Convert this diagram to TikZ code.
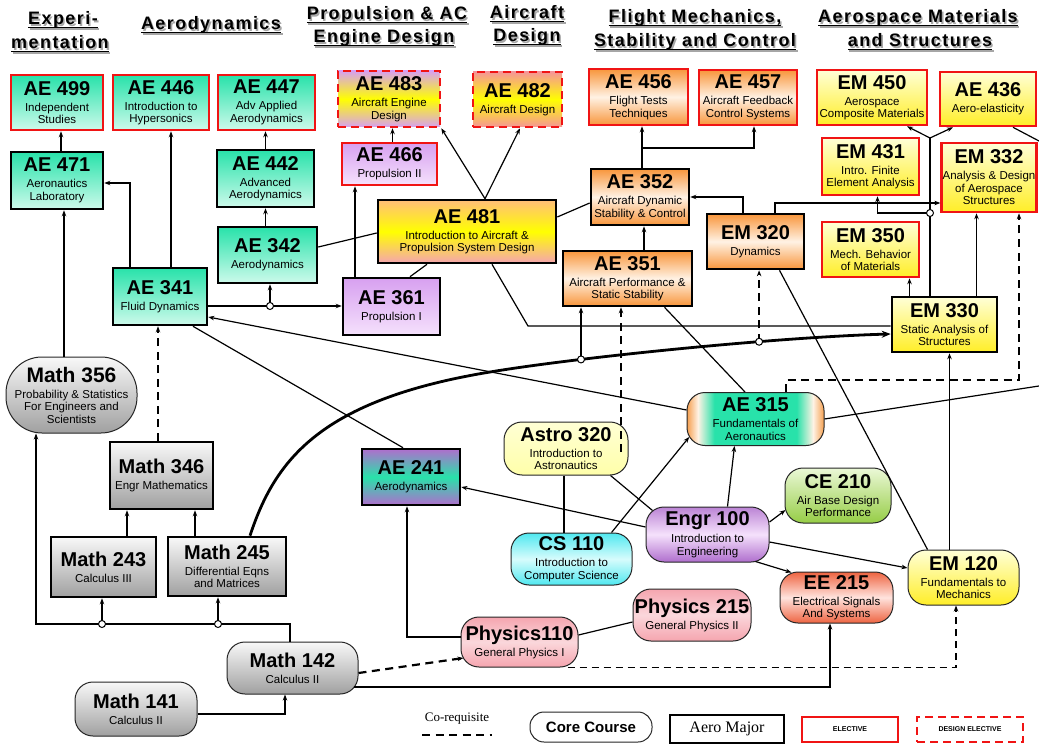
\documentclass[tikz,border=0pt]{standalone}
\usepackage{fontspec}
\setmainfont{Liberation Sans}
\newfontfamily\hdrfont[LetterSpace=8]{Liberation Sans}
\newfontfamily\legserif{Liberation Serif}
\usetikzlibrary{arrows.meta}

\definecolor{aqua}{RGB}{40,226,170}
\definecolor{mint}{RGB}{205,250,235}
\definecolor{lav}{RGB}{215,160,240}
\definecolor{lavl}{RGB}{245,225,252}
\definecolor{org}{RGB}{248,150,60}
\definecolor{orgl}{RGB}{255,242,228}
\definecolor{orgrim}{RGB}{245,160,80}
\definecolor{ylw}{RGB}{255,238,40}
\definecolor{ylwl}{RGB}{255,255,215}
\definecolor{salmon}{RGB}{245,150,150}
\definecolor{peach}{RGB}{255,190,120}
\definecolor{pinkc}{RGB}{245,165,175}
\definecolor{grayd}{RGB}{160,160,160}
\definecolor{grayl}{RGB}{248,248,248}
\definecolor{purp}{RGB}{175,110,205}
\definecolor{cyanc}{RGB}{80,232,240}
\definecolor{cyanl}{RGB}{215,252,252}
\definecolor{greenc}{RGB}{150,205,70}
\definecolor{greenl}{RGB}{235,248,215}
\definecolor{redc}{RGB}{238,100,65}
\definecolor{redl}{RGB}{255,228,222}
\definecolor{astro}{RGB}{255,255,212}
\definecolor{elred}{RGB}{240,20,20}

% green body with orange ends for AE 315
\pgfdeclarehorizontalshading{aerorim}{100bp}{color(0bp)=(orgrim); color(25bp)=(orgrim); color(29bp)=(orgl); color(35bp)=(aqua); color(65bp)=(aqua); color(71bp)=(orgl); color(75bp)=(orgrim); color(100bp)=(orgrim)}

\newcommand\ttlfont{\fontsize{20}{20}\selectfont\bfseries}
\newcommand\subfont{\fontsize{11.5}{12.5}\selectfont}
\newcommand\crs[2]{{\ttlfont #1}\\[3.5pt]#2}
% underlined header line with a grey drop shadow
\newcommand\hul[1]{\setbox0=\hbox{#1}\rlap{\rule[-3.2pt]{\wd0}{1.6pt}}\box0}
\newcommand\hdrtext[1]{\rlap{\kern1.6pt\raisebox{-1.6pt}{\color{black!35}\hul{#1}}}\hul{#1}}

\begin{document}
\begin{tikzpicture}[x=1pt,y=-1pt,
  box/.style={rectangle, align=center, inner sep=1pt, font=\subfont},
  sz/.style 2 args={minimum width=#1pt, minimum height=#2pt},
  major/.style={box, draw=black, line width=2.6pt},
  elective/.style={box, draw=elred, line width=2.6pt},
  delective/.style={box, draw=elred, line width=2.6pt, dash pattern=on 8pt off 5pt},
  core/.style={box, draw=black!85, line width=1pt, rounded corners=18pt},
  fgreen/.style={top color=aqua, bottom color=mint},
  fpurple/.style={top color=lav, bottom color=lavl},
  f483/.style={top color=lav, bottom color=lav, middle color=yellow},
  f482/.style={top color=salmon, bottom color=salmon, middle color=yellow},
  f481/.style={top color=peach, bottom color=pinkc, middle color=yellow},
  forange/.style={top color=org, bottom color=org, middle color=orgl},
  fyellow/.style={top color=ylwl, bottom color=ylw},
  fgray/.style={top color=grayl, bottom color=grayd},
  f241/.style={top color=purp, bottom color=purp, middle color=aqua},
  fastro/.style={top color=astro, bottom color=astro!80!yellow},
  fcyan/.style={top color=cyanc, bottom color=cyanc, middle color=cyanl},
  fengr/.style={top color=purp!85, bottom color=purp, middle color=lavl},
  fce/.style={top color=greenl, bottom color=greenc},
  fee/.style={top color=redc, bottom color=redc, middle color=redl},
  fphys/.style={top color=pinkc, bottom color=pinkc, middle color=pinkc!45},
  con/.style={line width=1.2pt},
  tip/.style={-{Stealth[length=6pt,width=4.5pt]}},
  arr/.style={con, tip},
  dsh/.style={line width=2.2pt, dash pattern=on 8pt off 5.5pt},
  dshthin/.style={line width=1.6pt, dash pattern=on 7pt off 5pt},
  thickc/.style={line width=2.8pt, -{Stealth[length=9pt,width=7pt]}},
  jc/.style={circle, draw, fill=white, inner sep=0pt, minimum size=7pt, line width=1pt},
  hdr/.style={anchor=base, inner sep=0pt, font={\hdrfont\fontsize{18}{18}\selectfont\bfseries}}
]
\fill[white] (0,0) rectangle (1039,746);
\path[use as bounding box] (0,0) rectangle (1039,746);

% ---- column headers
\node[hdr] (h1a) at (63,25) {\hdrtext{Experi-}};
\node[hdr] (h1b) at (60,49) {\hdrtext{mentation}};
\node[hdr] (h2)  at (211,30) {\hdrtext{Aerodynamics}};
\node[hdr] (h3a) at (387,20) {\hdrtext{Propulsion \& AC}};
\node[hdr] (h3b) at (384,43) {\hdrtext{Engine Design}};
\node[hdr] (h4a) at (527,19) {\hdrtext{Aircraft}};
\node[hdr] (h4b) at (527,42) {\hdrtext{Design}};
\node[hdr] (h5a) at (695,23) {\hdrtext{Flight Mechanics,}};
\node[hdr] (h5b) at (695,47) {\hdrtext{Stability and Control}};
\node[hdr] (h6a) at (918,23) {\hdrtext{Aerospace Materials}};
\node[hdr] (h6b) at (920,47) {\hdrtext{and Structures}};

% ---- aerodynamics / experimentation
\node[elective,fgreen,sz={92}{55}] (ae499) at (57,102.5) {\crs{AE 499}{Independent\\Studies}};
\node[elective,fgreen,sz={96}{55}] (ae446) at (161,102.5) {\crs{AE 446}{Introduction to\\Hypersonics}};
\node[elective,fgreen,sz={97}{55}] (ae447) at (266.5,102.5) {\crs{AE 447}{Adv Applied\\Aerodynamics}};
\node[major,fgreen,sz={92}{57}] (ae471) at (57,180.5) {\crs{AE 471}{Aeronautics\\Laboratory}};
\node[major,fgreen,sz={97}{57}] (ae442) at (265.5,178.5) {\crs{AE 442}{Advanced\\Aerodynamics}};
\node[major,fgreen,sz={99}{56}] (ae342) at (267.5,255) {\crs{AE 342}{Aerodynamics}};
\node[major,fgreen,sz={94}{57}] (ae341) at (160,296.5) {\crs{AE 341}{Fluid Dynamics}};

% ---- propulsion and aircraft design
\node[major,fpurple,sz={97}{57}] (ae361) at (391.5,306.5) {\crs{AE 361}{Propulsion I}};
\node[delective,f483,sz={102}{56}] (ae483) at (389,99) {\crs{AE 483}{Aircraft Engine\\Design}};
\node[elective,fpurple,sz={95}{42}] (ae466) at (389.5,164) {\crs{AE 466}{Propulsion II}};
\node[delective,f482,sz={89}{55}] (ae482) at (517.5,99.5) {\crs{AE 482}{Aircraft Design}};
\node[major,f481,sz={178}{63}] (ae481) at (467,231.5) {\crs{AE 481}{Introduction to Aircraft \&\\Propulsion System Design}};

% ---- flight mechanics
\node[elective,forange,sz={99}{56}] (ae456) at (638.5,97) {\crs{AE 456}{Flight Tests\\Techniques}};
\node[elective,forange,sz={98}{55}] (ae457) at (748,97.5) {\crs{AE 457}{Aircraft Feedback\\Control Systems}};
\node[major,forange,sz={98}{56}] (ae352) at (640,197) {\crs{AE 352}{Aircraft Dynamic\\Stability \& Control}};
\node[major,forange,sz={97}{55}] (em320) at (755.5,241.5) {\crs{EM 320}{Dynamics}};
\node[major,forange,sz={129}{55}] (ae351) at (627.5,278.5) {\crs{AE 351}{Aircraft Performance \&\\Static Stability}};

% ---- materials and structures
\node[elective,fyellow,sz={110}{55}] (em450) at (872,97.5) {\crs{EM 450}{Aerospace\\Composite Materials}};
\node[elective,fyellow,sz={96}{54}] (ae436) at (988,99) {\crs{AE 436}{Aero-elasticity}};
\node[elective,fyellow,sz={97}{57}] (em431) at (870.5,166.5) {\crs{EM 431}{Intro. Finite\\Element Analysis}};
\node[elective,fyellow,sz={94}{69}] (em332) at (989,177.5) {\crs{EM 332}{Analysis \& Design\\of Aerospace\\Structures}};
\node[elective,fyellow,sz={97}{55}] (em350) at (870.5,249.5) {\crs{EM 350}{Mech. Behavior\\of Materials}};
\node[major,fyellow,sz={105}{55}] (em330) at (944.5,324.5) {\crs{EM 330}{Static Analysis of\\Structures}};

% ---- mathematics
\node[core,fgray,sz={131}{76},rounded corners=36pt] (m356) at (71.5,395) {\crs{\fontsize{21}{21}\selectfont Math 356}{Probability \& Statistics\\For Engineers and\\Scientists}};
\node[major,fgray,sz={103}{67}] (m346) at (161.5,475.5) {\crs{Math 346}{Engr Mathematics}};
\node[major,fgray,sz={105}{60}] (m243) at (103.5,567) {\crs{Math 243}{Calculus III}};
\node[major,fgray,sz={118}{59}] (m245) at (227,566.5) {\crs{Math 245}{Differential Eqns\\and Matrices}};
\node[core,fgray,sz={131}{52}] (m142) at (292.5,668) {\crs{Math 142}{Calculus II}};
\node[core,fgray,sz={122}{54}] (m141) at (136,709) {\crs{Math 141}{Calculus II}};

% ---- lower level courses
\node[major,f241,sz={98}{56}] (ae241) at (411,477) {\crs{AE 241}{Aerodynamics}};
\node[core,fastro,sz={124}{53}] (a320) at (566,448.5) {\crs{Astro 320}{Introduction to\\Astronautics}};
\node[core,shade,shading=aerorim,sz={137}{53}] (ae315) at (755.5,419) {\crs{AE 315}{Fundamentals of\\Aeronautics}};
\node[core,fcyan,sz={121}{52}] (cs110) at (571.5,559) {\crs{CS 110}{Introduction to\\Computer Science}};
\node[core,fengr,sz={123}{55}] (e100) at (707.5,534.5) {\crs{Engr 100}{Introduction to\\Engineering}};
\node[core,fce,sz={106}{55}] (ce210) at (838,495.5) {\crs{CE 210}{Air Base Design\\Performance}};
\node[core,fee,sz={113}{51}] (ee215) at (836.5,597.5) {\crs{EE 215}{Electrical Signals\\And Systems}};
\node[core,fyellow,sz={111}{55}] (em120) at (963.5,577.5) {\crs{EM 120}{Fundamentals to\\Mechanics}};
\node[core,fphys,sz={117}{50}] (p110) at (519.5,642) {\crs{Physics110}{General Physics I}};
\node[core,fphys,sz={118}{52}] (p215) at (692,615) {\crs{Physics 215}{General Physics II}};

% ---- helper points
\coordinate (k471) at (130,183);
\coordinate (k446) at (171,0);
\coordinate (k356) at (64,0);
\coordinate (j342) at (270,306);
\coordinate (k466) at (355,0);
\coordinate (k456) at (642,148);
\coordinate (k352) at (743,197);
\coordinate (k332) at (775,203);
\coordinate (jy) at (930,138);
\coordinate (j431) at (930,213);
\coordinate (kd1) at (1019,380);
\coordinate (kd2) at (786,380);
\coordinate (edgeA) at (1039,386);
\coordinate (edgeB) at (1039,141);
\coordinate (busL) at (36,624);
\coordinate (j243) at (102,624);
\coordinate (j245) at (218,624);
\coordinate (k481) at (528,326);
\coordinate (k490) at (490,372);
\coordinate (k621) at (621,452);

% ---- aerodynamics links
\draw[arr] ([xshift=4pt]ae471.north) -- ([xshift=4pt]ae499.south);
\draw[arr] (ae341.north -| k471) |- (ae471.east |- k471);
\draw[arr] (ae341.north -| k446) -- (ae446.south -| k446);
\draw[arr] (ae442.north) -- (ae442.north |- ae447.south);
\draw[arr] (ae342.north -| ae442.north) -- (ae442.south);
\draw[arr] (m356.north -| k356) -- (ae471.south -| k356);
\draw[arr] (ae341.east |- j342) -- (ae361.west |- j342);
\draw[arr] (j342) -- (ae342.south -| j342);

% ---- propulsion and design links
\draw[arr] (ae361.north -| k466) -- (ae466.south -| k466);
\draw[arr] ([xshift=3pt]ae466.north) -- ([xshift=3pt]ae466.north |- ae483.south);
\draw[con] ([xshift=18.5pt]ae361.north) -- ([xshift=-40pt]ae481.south);
\draw[con] ([yshift=8pt]ae342.east) -- ([yshift=-1.5pt]ae481.west);
\draw[arr] ([xshift=18pt]ae481.north) -- (ae483.south east);
\draw[arr] ([xshift=18pt]ae481.north) -- ([xshift=2.5pt]ae482.south);
\draw[con] ([yshift=14.5pt]ae481.east) -- ([yshift=-6pt]ae352.west);
\draw[con] ([xshift=25pt]ae481.south) -- (k481) -- (em330.west |- k481);

% ---- flight mechanics links
\draw[arr] (ae352.north -| k456) -- (ae456.south -| k456);
\draw[arr] (k456) -| ([xshift=6pt]ae457.south);
\draw[arr] (em320.north -| k352) |- (ae352.east |- k352);
\draw[arr] (em320.north -| k332) |- (em332.west |- k332);
\draw[arr] ([xshift=16.5pt]ae351.north) -- ([xshift=16.5pt]ae351.north |- ae352.south);
\draw[con] ([xshift=37pt]ae351.south) -- ([xshift=-10.5pt]ae315.north);
\draw[con] ([xshift=24pt]em320.south) -- ([xshift=-36pt]em120.north);

% ---- structures links
\draw[con] (em330.north -| jy) -- (jy);
\draw[arr] (jy) -- ([xshift=35pt]em450.south);
\draw[arr] (jy) -- ([xshift=-35pt]ae436.south);
\draw[arr] (j431) -| ([xshift=7pt]em431.south);
\draw[arr] ([xshift=-35pt]em330.north) -- ([xshift=-35pt]em330.north |- em350.south);
\draw[arr] ([xshift=32pt]em330.north) -- ([xshift=32pt]em330.north |- em332.south);
\draw[dsh,tip] (ae315.north -| kd2) |- (kd1) -- (em332.south -| kd1);
\draw[arr] ([xshift=-14pt]em120.north) -- ([xshift=-14pt]em120.north |- em330.south);
\draw[con] (ae315.east) -- (edgeA);
\draw[con] ([xshift=25pt]ae436.south) -- (edgeB);

% ---- links into AE 341
\draw[arr] ([yshift=9pt]ae315.west) -- ([yshift=-20.5pt]ae341.east);
\draw[con] ([xshift=-8pt]ae241.north) -- ([xshift=33pt]ae341.south);
\draw[dsh,tip] ([xshift=-3.5pt]m346.north) -- ([xshift=-3.5pt]m346.north |- ae341.south);

% ---- mathematics links
\draw[arr] ([xshift=23.5pt]m243.north) -- ([xshift=23.5pt]m243.north |- m346.south);
\draw[arr] ([xshift=-32pt]m245.north) -- ([xshift=-32pt]m245.north |- m346.south);
\draw[arr] ([xshift=-2.5pt]m142.north) |- (busL) -- (busL |- m356.south);
\draw[arr] (j243) -- (m243.south -| j243);
\draw[arr] (j245) -- (m245.south -| j245);
\draw[arr] ([yshift=-5pt]m141.east) -| ([xshift=-7.5pt]m142.south);
\draw[dsh,tip] ([yshift=-5pt]m142.east) -- ([xshift=3pt,yshift=-16pt]p110.west);
\draw[arr] ([xshift=-5pt,yshift=-19pt]m142.east) -| ([xshift=-6.5pt]ee215.south);

% ---- physics and engineering links
\draw[dshthin,tip] ([xshift=-11pt]p110.south east) -| ([xshift=-7.5pt]em120.south);
\draw[arr] ([yshift=5pt]p110.west) -| ([xshift=-4pt]ae241.south);
\draw[con] ([yshift=7pt]p110.east) -- ([yshift=-7pt]p215.west);
\draw[arr] ([yshift=7.5pt]e100.west) -- ([yshift=-10pt]ae241.east);
\draw[con] ([xshift=-2pt]a320.south) -- ([xshift=-2pt]a320.south |- cs110.north);
\draw[arr] ([xshift=40pt]cs110.north) -- ([xshift=2.7pt,yshift=-18pt]ae315.west);
\draw[con] ([xshift=-18pt]a320.south east) -- ([xshift=7pt,yshift=-4pt]e100.north west);
\draw[arr] ([xshift=20pt]e100.north) -- ([xshift=-21pt]ae315.south);
\draw[arr] ([yshift=12.5pt]e100.east) -- ([xshift=1pt,yshift=-14.5pt]ce210.west);
\draw[arr] ([yshift=-7.5pt]e100.east) -- ([yshift=9.5pt]em120.west);
\draw[arr] ([xshift=-14pt,yshift=1pt]e100.south east) -- ([xshift=12pt,yshift=-1pt]ee215.north west);

% ---- heavy line from Math 245 to EM 330
\draw[thickc] ([xshift=23pt]m245.north) .. controls (275,460) and (320,400) .. (k490)
  .. controls (580,357) and (780,337) .. coordinate[pos=0.265] (j351) coordinate[pos=0.67] (j320) ([yshift=-9.5pt]em330.west);
\draw[arr] (j351) -- (ae351.south -| j351);
\draw[dsh,tip] (j320) -- (em320.south -| j320);
\draw[dsh,tip] (k621) -- (ae351.south -| k621);

% ---- junction markers
\foreach \j in {j342,j431,j243,j245,j351,j320}
  \node[jc] (c-\j) at (\j) {};

% ---- legend
\node[inner sep=0pt, font={\legserif\fontsize{13}{13}\selectfont}] (lgco) at (457,719) {Co-requisite};
\coordinate (lgd1) at (422,735);
\coordinate (lgd2) at (492,735);
\draw[dsh] (lgd1) -- (lgd2);
\node[core, fill=white, sz={122}{30}, rounded corners=14pt, font={\fontsize{15}{15}\selectfont\bfseries}] (lgcore) at (591,727) {Core Course};
\node[major, fill=white, sz={114}{28}, font={\legserif\fontsize{16}{16}\selectfont}] (lgmaj) at (727,729) {Aero Major};
\node[elective, fill=white, sz={96}{25}, font={\fontsize{7}{7}\selectfont\bfseries}] (lgel) at (850,729.5) {ELECTIVE};
\node[delective, fill=white, sz={106}{25}, font={\fontsize{7}{7}\selectfont\bfseries}] (lgdel) at (970,729.5) {DESIGN ELECTIVE};
\end{tikzpicture}
\end{document}
